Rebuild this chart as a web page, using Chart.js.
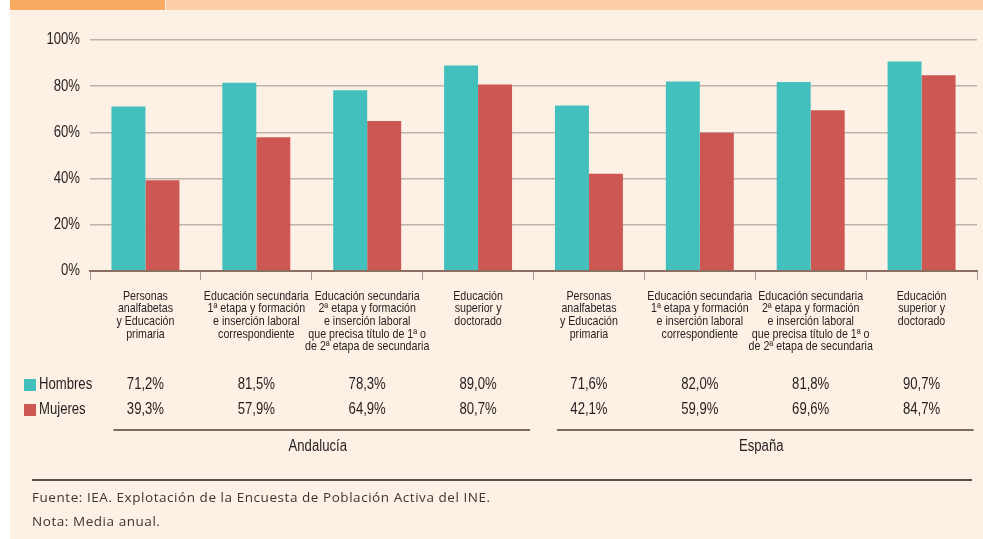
<!DOCTYPE html>
<html>
<head>
<meta charset="utf-8">
<script src="https://cdn.jsdelivr.net/npm/chart.js@4.4.1/dist/chart.umd.min.js"></script>
<style>
    html, body { margin: 0; padding: 0; background: #ffffff; }
    #page { position: relative; width: 983px; height: 539px; overflow: hidden; }
    #panel { position: absolute; left: 10px; top: 0; width: 973px; height: 539px; background: #fdf0e4; }
    #tabA { position: absolute; left: 10px; top: 0; width: 155px; height: 10px; background: #fbaa62; }
    #tabB { position: absolute; left: 166px; top: 0; width: 817px; height: 10px; background: #fecfa6; }
    #chart { position: absolute; left: 0; top: 0; }
    #rule { position: absolute; left: 32px; top: 479px; width: 940px; height: 2px; background: #5b514c; }
    .note { position: absolute; left: 32px; font-family: "Open Sans", "Noto Sans", sans-serif; font-size: 13.5px; letter-spacing: 0.55px; color: #3b3735; }
</style>
</head>
<body>
<div id="page">
    <div id="panel"></div>
    <div id="tabA"></div>
    <div id="tabB"></div>
    <canvas id="chart" width="983" height="539"></canvas>
    <div id="rule"></div>
    <div class="note" style="top:488px">Fuente: IEA. Explotación de la Encuesta de Población Activa del INE.</div>
    <div class="note" style="top:512px">Nota: Media anual.</div>
</div>
<script>
const categories = [
    ['Personas', 'analfabetas', 'y Educación', 'primaria'],
    ['Educación secundaria', '1ª etapa y formación', 'e inserción laboral', 'correspondiente'],
    ['Educación secundaria', '2ª etapa y formación', 'e inserción laboral', 'que precisa título de 1ª o', 'de 2ª etapa de secundaria'],
    ['Educación', 'superior y', 'doctorado'],
    ['Personas', 'analfabetas', 'y Educación', 'primaria'],
    ['Educación secundaria', '1ª etapa y formación', 'e inserción laboral', 'correspondiente'],
    ['Educación secundaria', '2ª etapa y formación', 'e inserción laboral', 'que precisa título de 1ª o', 'de 2ª etapa de secundaria'],
    ['Educación', 'superior y', 'doctorado']
];
const hombres = [71.2, 81.5, 78.3, 89.0, 71.6, 82.0, 81.8, 90.7];
const mujeres = [39.3, 57.9, 64.9, 80.7, 42.1, 59.9, 69.6, 84.7];
const regions = ['Andalucía', 'España'];
const seriesNames = ['Hombres', 'Mujeres'];
const yTicks = [0, 20, 40, 60, 80, 100];
const colors = ['#43c0bd', '#cd5752'];

const FONT = '"Liberation Sans", Arial, sans-serif';
const SQUEEZE = 0.82;   // the original uses a condensed face

function pct(v) {
    return v.toFixed(1).replace('.', ',') + '%';
}

// condensed text: squeeze horizontally around the anchor point
function narrowText(ctx, text, x, y, align) {
    ctx.save();
    ctx.translate(x, y);
    ctx.scale(SQUEEZE, 1);
    ctx.textAlign = align;
    ctx.fillText(text, 0, 0);
    ctx.restore();
}

const labelsPlugin = {
    id: 'labels',
    afterDraw(chart) {
        const ctx = chart.ctx;
        const x = chart.scales.x;
        const y = chart.scales.y;
        ctx.save();
        ctx.fillStyle = '#231f20';
        ctx.textBaseline = 'middle';

        // y tick labels
        ctx.font = '16px ' + FONT;
        yTicks.forEach(t => narrowText(ctx, t + '%', chart.chartArea.left - 10, y.getPixelForValue(t), 'right'));

        // category labels
        ctx.font = '13px ' + FONT;
        categories.forEach((lines, i) => {
            lines.forEach((line, k) => {
                narrowText(ctx, line, x.getPixelForValue(i), 296 + k * 12.7, 'center');
            });
        });

        // value table
        const rows = [hombres, mujeres];
        const rowY = [385, 410];
        ctx.font = '16px ' + FONT;
        rows.forEach((row, r) => {
            ctx.fillStyle = colors[r];
            ctx.fillRect(24, rowY[r] - 6, 12, 12);
            ctx.fillStyle = '#231f20';
            narrowText(ctx, seriesNames[r], 39, rowY[r], 'left');
            row.forEach((v, i) => narrowText(ctx, pct(v), x.getPixelForValue(i), rowY[r], 'center'));
        });

        // region underlines and names
        const per = categories.length / regions.length;
        ctx.strokeStyle = '#7d6a61';
        ctx.lineWidth = 2;
        regions.forEach((name, g) => {
            const first = x.getPixelForValue(g * per);
            const last = x.getPixelForValue(g * per + per - 1);
            ctx.beginPath();
            ctx.moveTo(first - 32, 430);
            ctx.lineTo(last + 52, 430);
            ctx.stroke();
            narrowText(ctx, name, (first + last) / 2 + 6, 447, 'center');
        });
        ctx.restore();
    }
};

new Chart(document.getElementById('chart'), {
    type: 'bar',
    data: {
        labels: categories.map(c => c.join(' ')),
        datasets: [
            { label: seriesNames[0], data: hombres, backgroundColor: colors[0] },
            { label: seriesNames[1], data: mujeres, backgroundColor: colors[1] }
        ]
    },
    options: {
        responsive: false,
        animation: false,
        devicePixelRatio: 1,
        layout: { padding: { top: 40, right: 6, left: 0, bottom: 0 } },
        datasets: { bar: { categoryPercentage: 0.613, barPercentage: 1 } },
        plugins: { legend: { display: false }, tooltip: { enabled: false } },
        scales: {
            x: {
                afterFit: s => { s.height = 268; },
                border: { display: true, color: '#8b6f62', width: 2 },
                grid: { drawOnChartArea: false, drawTicks: true, tickLength: 9, color: '#a39a94', lineWidth: 1 },
                ticks: { display: false }
            },
            y: {
                min: 0, max: 100,
                afterFit: s => { s.width = 90; },
                border: { display: false },
                grid: {
                    drawTicks: false,
                    color: c => c.tick.value === 0 ? '#8b6f62' : '#bcb3ac',
                    lineWidth: c => c.tick.value === 0 ? 2 : 1.5
                },
                ticks: { display: false, stepSize: 20 }
            }
        }
    },
    plugins: [labelsPlugin]
});
</script>
</body>
</html>
